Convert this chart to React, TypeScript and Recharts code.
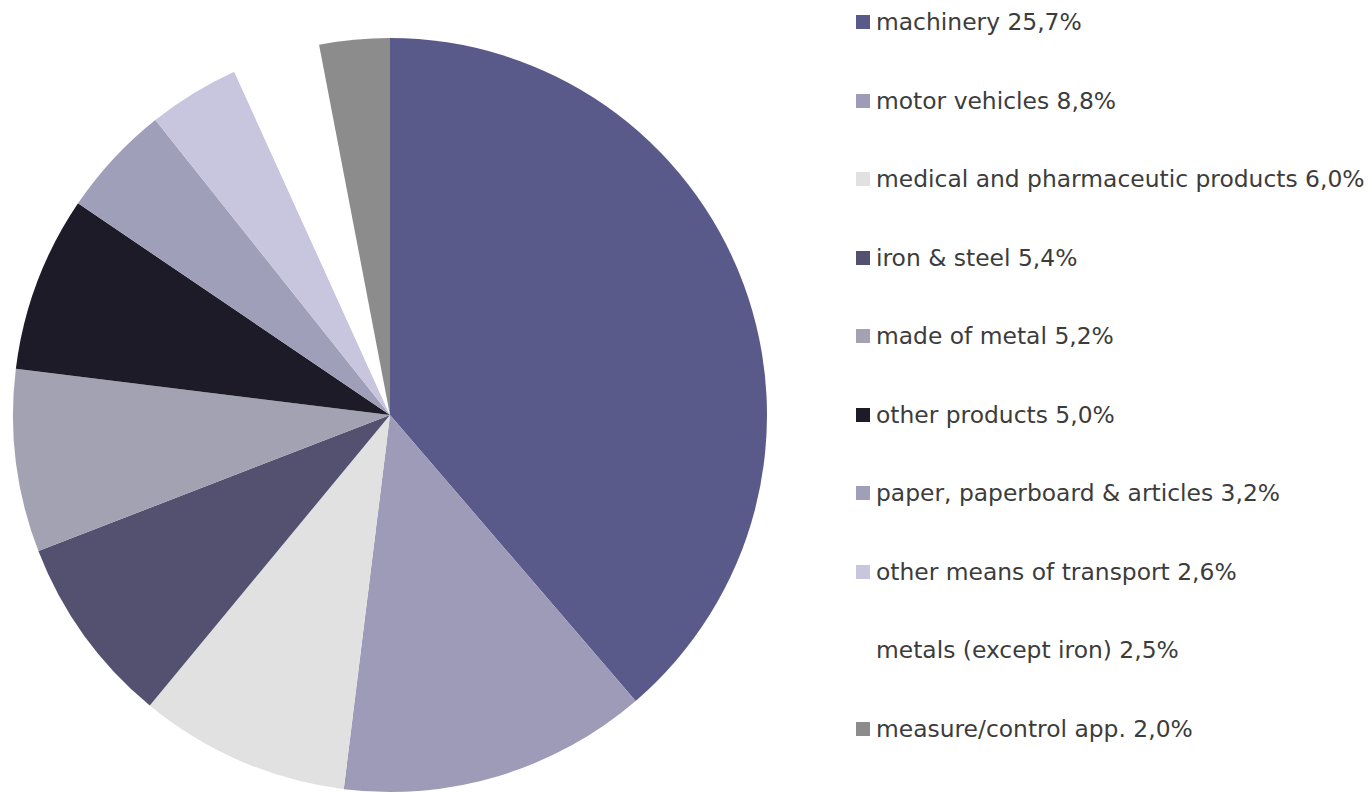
import { PieChart, Pie, Cell, Legend } from "recharts"

const categories = [
  "machinery",
  "motor vehicles",
  "medical and pharmaceutic products",
  "iron & steel",
  "made of metal",
  "other products",
  "paper, paperboard & articles",
  "other means of transport",
  "metals (except iron)",
  "measure/control app.",
]
const shares = [25.7, 8.8, 6.0, 5.4, 5.2, 5.0, 3.2, 2.6, 2.5, 2.0]
const COLORS = ["#5a5a8a", "#9e9bb9", "#e1e1e1", "#53516f", "#a3a2b2", "#1c1b27", "#9f9fb9", "#c8c6de", "#ffffff", "#8c8c8c"]

const data = categories.map((name, i) => ({ name, value: shares[i] }))
const fmt = (v: number) => v.toFixed(1).replace(".", ",") + "%"

const renderLegend = () => (
  <div style={{ fontFamily: "'DejaVu Sans', sans-serif", fontSize: 23.4, color: "#3c3c3c" }}>
    {data.map((d, i) => (
      <div key={d.name} style={{ height: 78.5, display: "flex", alignItems: "center", whiteSpace: "nowrap" }}>
        <span style={{ width: 14, height: 14, background: COLORS[i], display: "inline-block", marginRight: 6 }} />
        {d.name} {fmt(d.value)}
      </div>
    ))}
  </div>
)

export default function App() {
  return (
    <div style={{ position: "absolute", left: 0, top: 0, background: "#fff" }}>
      <PieChart width={1371} height={793} margin={{ top: 0, right: 0, bottom: 0, left: 0 }}>
        <Pie
          data={data}
          dataKey="value"
          nameKey="name"
          cx={390}
          cy={415}
          outerRadius={377}
          startAngle={90}
          endAngle={-270}
          stroke="none"
          isAnimationActive={false}
        >
          {data.map((_, i) => (
            <Cell key={i} fill={COLORS[i]} />
          ))}
        </Pie>
        <Legend
          content={renderLegend}
          layout="vertical"
          wrapperStyle={{ left: 856, top: -17, width: 515 }}
        />
      </PieChart>
    </div>
  )
}
